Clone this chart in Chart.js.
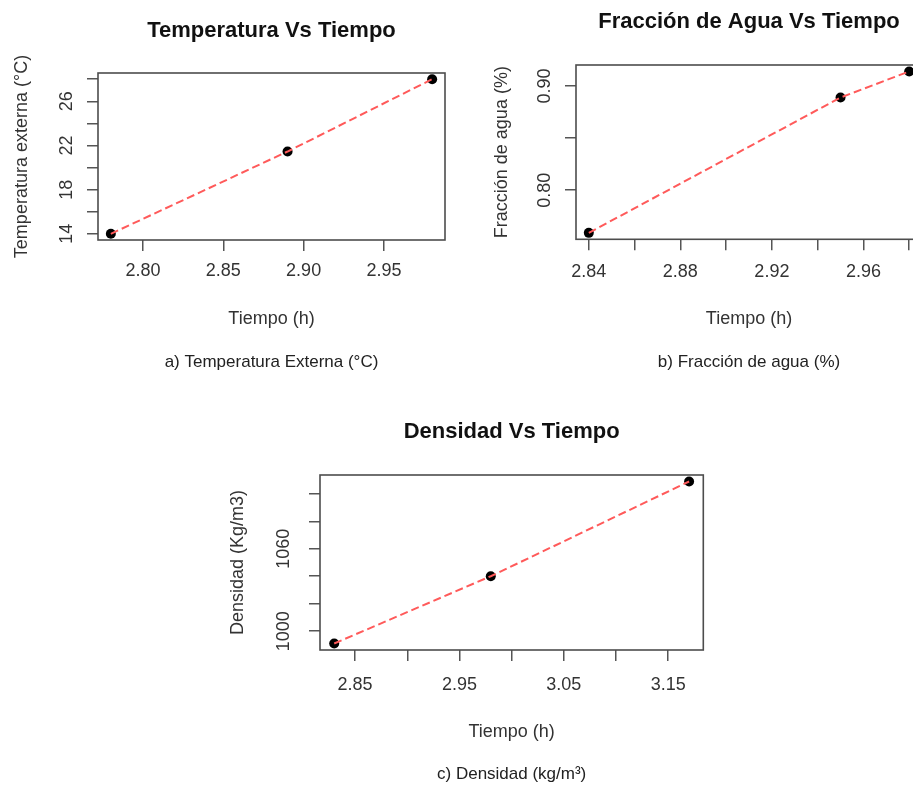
<!DOCTYPE html>
<html>
<head>
<meta charset="utf-8">
<script src="https://cdn.jsdelivr.net/npm/chart.js@4.4.1/dist/chart.umd.min.js"></script>
<style>
html,body{margin:0;padding:0;background:#fff;width:913px;height:785px;overflow:hidden;position:relative}
canvas{position:absolute}
</style>
</head>
<body>
<canvas id="cA" width="460" height="376" style="left:0px;top:0px"></canvas>
<canvas id="cB" width="460" height="376" style="left:470px;top:0px"></canvas>
<canvas id="cC" width="520" height="390" style="left:200px;top:395px"></canvas>
<script>
// ---------- data ----------
const tiempoTemp = [2.78, 2.89, 2.98];
const temperatura = [14.0, 21.45, 28.0];

const tiempoAgua = [2.84, 2.95, 2.98];
const fraccionAgua = [0.759, 0.889, 0.914];

const tiempoDens = [2.83, 2.98, 3.17];
const densidad = [991, 1040, 1109];

// ---------- tick labels ----------
const tempXLabels = [2.80, 2.85, 2.90, 2.95];
const tempYLabels = [14, 18, 22, 26];
const aguaXLabels = [2.84, 2.88, 2.92, 2.96];
const aguaYLabels = [0.80, 0.90];
const densXLabels = [2.85, 2.95, 3.05, 3.15];
const densYLabels = [1000, 1060];

const tempXStep = 0.05, tempYStep = 2;
const aguaXStep = 0.02, aguaYStep = 0.05;
const densXStep = 0.05, densYStep = 20;

// ---------- text ----------
const titles = ['Temperatura Vs Tiempo', 'Fracción de Agua Vs Tiempo', 'Densidad Vs Tiempo'];
const xTitle = 'Tiempo (h)';
const yTitles = ['Temperatura externa (°C)', 'Fracción de agua (%)', 'Densidad (Kg/m3)'];
const captions = ['a) Temperatura Externa (°C)', 'b) Fracción de agua (%)', 'c) Densidad (kg/m³)'];

const FONT = "'Liberation Sans', Arial, Helvetica, sans-serif";

function rRange(arr) {
  const lo = Math.min(...arr), hi = Math.max(...arr);
  const d = (hi - lo) * 0.04;
  return { min: lo - d, max: hi + d };
}
function labelCb(labels, dec) {
  return function (v) {
    return labels.some(l => Math.abs(l - v) < 1e-7) ? Number(v).toFixed(dec) : '';
  };
}

const framePlugin = {
  id: 'frame',
  beforeDatasetsDraw(chart) {
    const a = chart.chartArea, ctx = chart.ctx;
    ctx.save();
    ctx.strokeStyle = '#4d4d4d';
    ctx.lineWidth = 1.6;
    ctx.strokeRect(a.left, a.top, a.right - a.left, a.bottom - a.top);
    ctx.restore();
  }
};

function makeChart(id, o) {
  const xr = rRange(o.xs), yr = rRange(o.ys);
  const pts = o.xs.map((x, i) => ({ x: x, y: o.ys[i] }));
  new Chart(document.getElementById(id), {
    type: 'scatter',
    data: {
      datasets: [
        { data: pts, showLine: true, borderColor: '#ff5a5a', borderWidth: 2, borderDash: [8, 4],
          pointRadius: 0, fill: false, tension: 0 },
        { data: pts, showLine: false, pointRadius: 5, pointBackgroundColor: '#000',
          pointBorderColor: '#000', pointBorderWidth: 0 }
      ]
    },
    options: {
      responsive: false,
      animation: false,
      layout: { padding: { left: 0, top: 0, right: o.padR, bottom: 0 } },
      plugins: {
        legend: { display: false },
        tooltip: { enabled: false },
        title: { display: true, text: o.title, fullSize: false, color: '#111',
          font: { family: FONT, size: 22, weight: 'bold' },
          padding: { top: o.tPadT, bottom: o.tPadB } },
        subtitle: { display: true, position: 'bottom', text: o.caption, fullSize: false, color: '#222',
          font: { family: FONT, size: 17 },
          padding: { top: 0, bottom: o.cPadB } }
      },
      scales: {
        x: {
          type: 'linear', position: 'bottom', min: xr.min, max: xr.max,
          ticks: { stepSize: o.xStep, includeBounds: false, autoSkip: false, minRotation: 0, maxRotation: 0,
            padding: o.xTickPad, color: '#333', font: { family: FONT, size: 18 },
            callback: labelCb(o.xLabels, o.xDec) },
          grid: { drawOnChartArea: false, drawTicks: true, tickLength: 11, color: '#555', lineWidth: 1.5 },
          border: { display: false },
          title: { display: true, text: xTitle, color: '#333', font: { family: FONT, size: 18 },
            padding: { top: 0, bottom: o.xTitlePadB } },
          afterFit: s => { s.height = o.xH; }
        },
        y: {
          type: 'linear', position: 'left', min: yr.min, max: yr.max,
          ticks: { stepSize: o.yStep, includeBounds: false, autoSkip: false, minRotation: 90, maxRotation: 90,
            crossAlign: 'center', padding: o.yTickPad, color: '#333', font: { family: FONT, size: 18 },
            callback: labelCb(o.yLabels, o.yDec) },
          grid: { drawOnChartArea: false, drawTicks: true, tickLength: 11, color: '#555', lineWidth: 1.5 },
          border: { display: false },
          title: { display: true, text: o.yTitle, color: '#333', font: { family: FONT, size: 18 },
            padding: { top: o.yTitlePadT, bottom: 0 } },
          afterFit: s => { s.width = o.yW; }
        }
      }
    },
    plugins: [framePlugin]
  });
}

makeChart('cA', {
  xs: tiempoTemp, ys: temperatura, xLabels: tempXLabels, yLabels: tempYLabels,
  xStep: tempXStep, yStep: tempYStep, xDec: 2, yDec: 0,
  title: titles[0], yTitle: yTitles[0], caption: captions[0],
  padR: 15, tPadT: 17.5, tPadB: 29.1, cPadB: 3, xH: 112.6, yW: 98,
  xTickPad: 9, yTickPad: 10, xTitlePadB: 22.8, yTitlePadT: 10.9
});
makeChart('cB', {
  xs: tiempoAgua, ys: fraccionAgua, xLabels: aguaXLabels, yLabels: aguaYLabels,
  xStep: aguaXStep, yStep: aguaYStep, xDec: 2, yDec: 2,
  title: titles[1], yTitle: yTitles[1], caption: captions[1],
  padR: 8, tPadT: 8.3, tPadB: 30.3, cPadB: 3, xH: 113.3, yW: 106,
  xTickPad: 11, yTickPad: 2.5, xTitlePadB: 22.8, yTitlePadT: 20.9
});
makeChart('cC', {
  xs: tiempoDens, ys: densidad, xLabels: densXLabels, yLabels: densYLabels,
  xStep: densXStep, yStep: densYStep, xDec: 2, yDec: 0,
  title: titles[2], yTitle: yTitles[2], caption: captions[2],
  padR: 16.7, tPadT: 23.5, tPadB: 30.1, cPadB: 0, xH: 114.6, yW: 120,
  xTickPad: 13, yTickPad: 5, xTitlePadB: 22.1, yTitlePadT: 27.2
});
</script>
</body>
</html>
